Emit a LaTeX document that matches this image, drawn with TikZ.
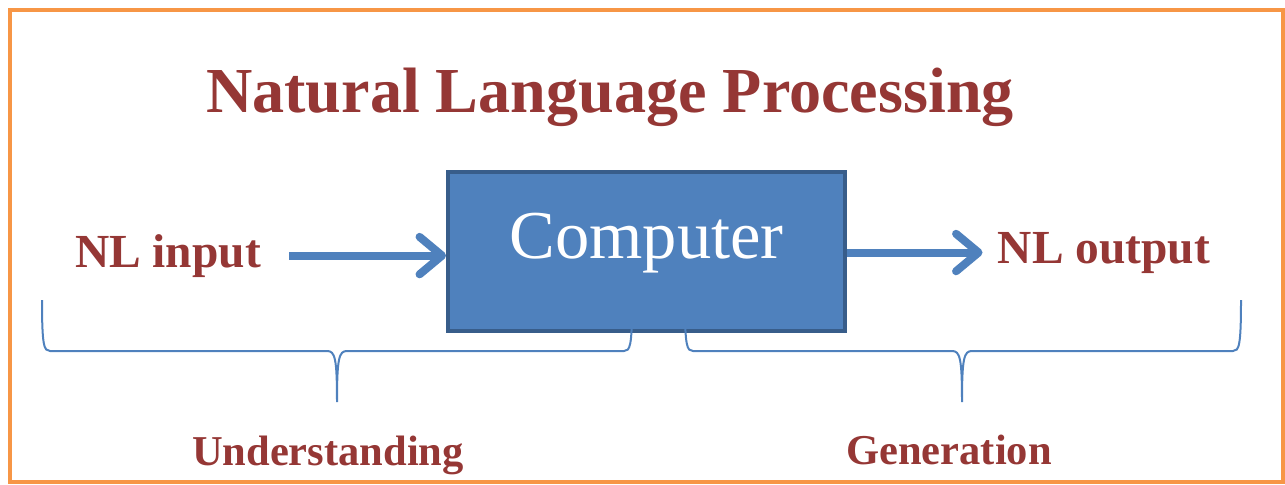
\documentclass[tikz,border=0pt]{standalone}
\usepackage{fontspec}
\setmainfont{Liberation Serif}
\usetikzlibrary{arrows.meta,positioning}
\definecolor{nlred}{HTML}{953735}
\definecolor{nlblue}{HTML}{4F81BD}
\definecolor{nlnavy}{HTML}{385D8A}
\definecolor{nlorange}{HTML}{F79646}
\tikzset{
  nltext/.style={text=nlred, font=\bfseries\fontsize{27}{30}\selectfont, inner sep=0pt, anchor=base},
  flow/.style={draw=nlblue, line width=0.16cm, -{Straight Barb[length=0.45cm,width=0.75cm,round]}},
  braceline/.style={draw=nlblue, line width=0.04cm}
}
\begin{document}
\begin{tikzpicture}[x=0.02cm, y=-0.02cm]
        \useasboundingbox (0,0) rectangle (1285,484);
        \draw[nlorange, line width=0.08cm] (10,10) rectangle (1283,482);

        \node[nltext, font=\bfseries\fontsize{36.5}{40}\selectfont] (title) at (610,112) {Natural Language Processing};

        \node[draw=nlnavy, fill=nlblue, line width=0.08cm, text=white, font=\fontsize{39}{44}\selectfont,
              minimum width=7.94cm, text height=1.72cm, text depth=1.46cm, inner sep=0pt, anchor=base]
              (computer) at (646.5,258) {Computer};

        \node[nltext] (nlin) at (168,267) {NL input};
        \node[nltext] (nlout) at (1104,263) {NL output};
        \node[nltext, font=\bfseries\fontsize{24.2}{28}\selectfont] (under) at (328,465) {Understanding};
        \node[nltext, font=\bfseries\fontsize{24.2}{28}\selectfont] (gen) at (949,464) {Generation};

        \draw[flow] ([xshift=0.56cm]nlin.east) -- (nlin.east -| computer.west);
        \draw[flow] (computer.east |- nlout.west) -- ([xshift=-0.3cm]nlout.west);

        % braces under the diagram
        \draw[braceline] (42,300) .. controls (42,346) and (44,351) .. (50,351) -- (327,351)
            .. controls (335,351) and (337,358) .. (337,402)
            .. controls (337,358) and (339,351) .. (347,351) -- (624,351)
            .. controls (630,351) and (632,346) .. (632,305);
        \draw[braceline] (685,305) .. controls (685,346) and (687,351) .. (693,351) -- (952,351)
            .. controls (960,351) and (962,358) .. (962,402)
            .. controls (962,358) and (964,351) .. (972,351) -- (1233,351)
            .. controls (1239,351) and (1241,346) .. (1241,300);
    \end{tikzpicture}
\end{document}
